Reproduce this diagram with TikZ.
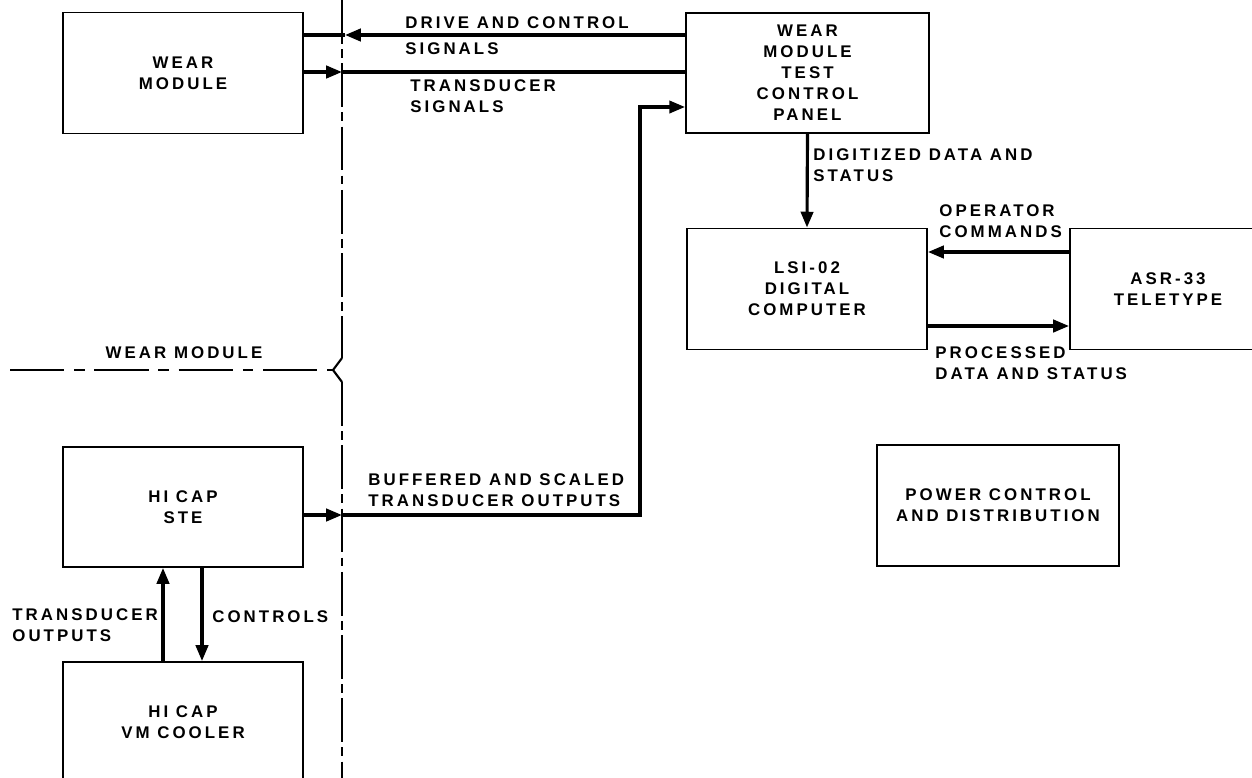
\documentclass[tikz,border=0pt]{standalone}
\usepackage{fontspec}
\setmainfont{Liberation Sans}[LetterSpace=18]
\usetikzlibrary{arrows.meta}

\tikzset{
	block/.style={draw, line width=1.1pt, minimum width=4.8cm, minimum height=2.42cm,
		align=center, inner sep=0pt, font=\bfseries\fontsize{9.6}{11.9}\selectfont},
	link/.style={line width=1.8pt},
	tip/.style={-{Triangle[length=9pt,width=7pt]}},
	lbl/.style={align=left, anchor=west, inner sep=0pt, font=\bfseries\fontsize{9.6}{11.9}\selectfont},
	vbound/.style={line width=1.2pt, dash pattern=on 25pt off 3pt on 5pt off 3pt},
	hbound/.style={line width=1.2pt, dash pattern=on 31pt off 5.5pt on 6pt off 5.5pt},
}

\begin{document}
\begin{tikzpicture}[x=0.02cm, y=-0.02cm]
		\useasboundingbox (0,0) rectangle (1252,778);
		
		% Draw Shape
		\node[block] (wm) at (183,73) {WEAR\\MODULE};
		\node[block, minimum width=4.86cm, minimum height=2.4cm] (panel) at (807.5,73) {WEAR\\MODULE\\TEST\\CONTROL\\PANEL};
		\node[block] (lsi) at (807,289) {LSI-02\\DIGITAL\\COMPUTER};
		\node[block, minimum width=3.92cm] (asr) at (1168,289) {ASR-33\\TELETYPE};
		\node[block, minimum width=4.84cm] (power) at (998,505.5) {POWER CONTROL\\AND DISTRIBUTION};
		\node[block, minimum height=2.4cm] (ste) at (183,507) {HI CAP\\STE};
		\node[block, minimum height=2.4cm] (cooler) at (183,722) {HI CAP\\VM COOLER};
		
		% Boundary of the wear module
		\coordinate (cusp) at (333,370);
		\coordinate (cusptop) at (342,358);
		\coordinate (cuspbot) at (342,382);
		\coordinate (linetop) at (342,0);
		\coordinate (linebot) at (342,778);
		\coordinate (lineleft) at (10,370);
		\draw[vbound] (linetop) -- (cusptop);
		\draw[line width=1.2pt] (cusptop) -- (cusp) -- (cuspbot);
		\draw[vbound] (cuspbot) -- (linebot);
		\draw[hbound] (lineleft) -- (cusp);
		
		% Connectors
		\coordinate (cutA) at (345,35);
		\draw[link, tip] (panel.west |- cutA) -- (cutA);
		\draw[link] (cutA) -- (wm.east |- cutA);
		
		\coordinate (cutB) at (342,72);
		\draw[link, tip] (wm.east |- cutB) -- (cutB);
		\draw[link] (cutB) -- (panel.west |- cutB);
		
		\coordinate (cutC) at (342,515);
		\coordinate (bend) at (640,107);
		\draw[link, tip] (ste.east |- cutC) -- (cutC);
		\draw[link, tip] (cutC) -- (bend |- cutC) -- (bend) -- (panel.west |- bend);
		
		\draw[link, tip] (panel.south) -- (lsi.north);
		
		\coordinate (opcmd) at (1000,252);
		\coordinate (procd) at (1000,326);
		\draw[link, tip] (asr.west |- opcmd) -- (lsi.east |- opcmd);
		\draw[link, tip] (lsi.east |- procd) -- (asr.west |- procd);
		
		\coordinate (upx) at (163,600);
		\coordinate (downx) at (202,600);
		\draw[link, tip] (cooler.north -| upx) -- (ste.south -| upx);
		\draw[link, tip] (ste.south -| downx) -- (cooler.north -| downx);
		
		% Labels
		\node[lbl] (drive) at (405,35.5) {DRIVE AND CONTROL\\[3pt]SIGNALS};
		\node[lbl] (tsig) at (410,96.5) {TRANSDUCER\\SIGNALS};
		\node[lbl] (buf) at (368,490) {BUFFERED AND SCALED\\TRANSDUCER OUTPUTS};
		\node[lbl] (digi) at (813,165.5) {DIGITIZED DATA AND\\STATUS};
		\node[lbl] (oper) at (939,221.5) {OPERATOR\\COMMANDS};
		\node[lbl] (proc) at (935,363) {PROCESSED\\DATA AND STATUS};
		\node[lbl] (tout) at (12,625.5) {TRANSDUCER\\OUTPUTS};
		\node[lbl] (ctrl) at (212,617) {CONTROLS};
		\node[lbl, anchor=center] (wmlabel) at (184,353) {WEAR MODULE};
		
\end{tikzpicture}
\end{document}
